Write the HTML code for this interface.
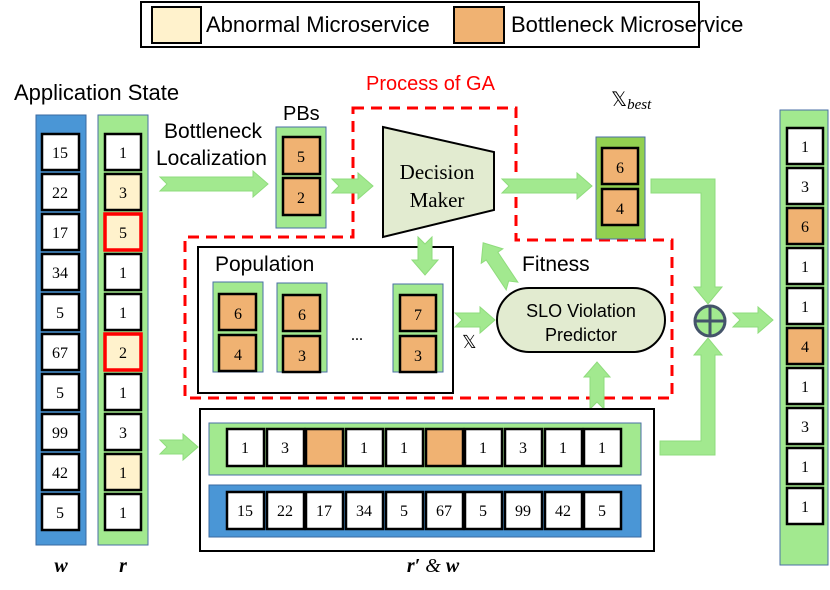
<!DOCTYPE html>
<html><head><style>
html,body{margin:0;padding:0;background:#fff;}
svg{display:block;}
.s{font-family:"Liberation Sans",sans-serif;}
.f{font-family:"Liberation Serif",serif;}
</style></head><body>
<svg width="830" height="590" viewBox="0 0 830 590" xmlns="http://www.w3.org/2000/svg">
<!-- legend -->
<rect x="141" y="2" width="558" height="45" fill="#fff" stroke="#000" stroke-width="2"/>
<rect x="152" y="7" width="49" height="36" fill="#fff2cc" stroke="#000" stroke-width="2"/>
<text x="206" y="32" class="s" font-size="22">Abnormal Microservice</text>
<rect x="454" y="7" width="50" height="36" fill="#f0b272" stroke="#000" stroke-width="2"/>
<text x="511" y="32" class="s" font-size="22">Bottleneck Microservice</text>

<text x="14" y="100" class="s" font-size="22">Application State</text>
<text x="366" y="90" class="s" font-size="20" fill="#ff0000">Process of GA</text>

<!-- red dashed -->
<polygon points="353,108 516,108 516,240 672,240 672,398 185,398 185,237 353,237" fill="none" stroke="#ff0000" stroke-width="3" stroke-dasharray="11,7"/>

<!-- w column -->
<rect x="36" y="115" width="50" height="430" fill="#4a96d6" stroke="#3a6aa0" stroke-width="1"/>
<rect x="98" y="115" width="50" height="430" fill="#a2e98f" stroke="#4a6fa6" stroke-width="1"/>
<g class="f" font-size="16" text-anchor="middle" stroke-width="2.5">
<g fill="#fff" stroke="#000">
<rect x="42" y="134" width="37" height="36"/><rect x="42" y="174" width="37" height="36"/><rect x="42" y="214" width="37" height="36"/><rect x="42" y="254" width="37" height="36"/><rect x="42" y="294" width="37" height="36"/><rect x="42" y="334" width="37" height="36"/><rect x="42" y="374" width="37" height="36"/><rect x="42" y="414" width="37" height="36"/><rect x="42" y="454" width="37" height="36"/><rect x="42" y="494" width="37" height="36"/>
<rect x="105" y="134" width="36" height="36"/>
<rect x="105" y="254" width="36" height="36"/><rect x="105" y="294" width="36" height="36"/>
<rect x="105" y="374" width="36" height="36"/><rect x="105" y="414" width="36" height="36"/><rect x="105" y="494" width="36" height="36"/>
</g>
<g fill="#fff2cc" stroke="#000">
<rect x="105" y="174" width="36" height="36"/><rect x="105" y="454" width="36" height="36"/>
</g>
<g fill="#fff2cc" stroke="#ff0000" stroke-width="3.5">
<rect x="105" y="214" width="36" height="36"/><rect x="105" y="334" width="36" height="36"/>
</g>
<g stroke="none" fill="#000">
<text x="60" y="158">15</text><text x="60" y="198">22</text><text x="60" y="238">17</text><text x="60" y="278">34</text><text x="60" y="318">5</text><text x="60" y="358">67</text><text x="60" y="398">5</text><text x="60" y="438">99</text><text x="60" y="478">42</text><text x="60" y="518">5</text>
<text x="123" y="158">1</text><text x="123" y="198">3</text><text x="123" y="238">5</text><text x="123" y="278">1</text><text x="123" y="318">1</text><text x="123" y="358">2</text><text x="123" y="398">1</text><text x="123" y="438">3</text><text x="123" y="478">1</text><text x="123" y="518">1</text>
</g>
</g>
<text x="61" y="572" class="f" font-size="20" font-weight="bold" font-style="italic" text-anchor="middle">w</text>
<text x="123" y="572" class="f" font-size="20" font-weight="bold" font-style="italic" text-anchor="middle">r</text>

<text x="164" y="138" class="s" font-size="21">Bottleneck</text>
<text x="156" y="165" class="s" font-size="21">Localization</text>

<!-- Population -->
<rect x="198" y="247" width="255" height="146" fill="#fff" stroke="#000" stroke-width="2"/>
<text x="215" y="271" class="s" font-size="21">Population</text>
<g fill="#a2e98f" stroke="#4a6fa6">
<rect x="213" y="282" width="50" height="90"/><rect x="277" y="283" width="50" height="89"/><rect x="393" y="284" width="50" height="88"/>
</g>
<g fill="#f0b272" stroke="#000" stroke-width="2.5">
<rect x="219" y="294" width="37" height="36"/><rect x="219" y="335" width="37" height="36"/>
<rect x="283" y="295" width="37" height="36"/><rect x="283" y="336" width="37" height="36"/>
<rect x="400" y="295" width="36" height="36"/><rect x="400" y="336" width="36" height="36"/>
</g>
<g class="f" font-size="16" text-anchor="middle">
<text x="238" y="319">6</text><text x="238" y="360">4</text>
<text x="302" y="320">6</text><text x="302" y="361">3</text>
<text x="418" y="320">7</text><text x="418" y="361">3</text>
<text x="357" y="340">...</text>
</g>
<text x="462" y="348" class="f" font-size="18">𝕏</text>

<!-- arrows -->
<g fill="#a2e98f" stroke="#8fdc7c" stroke-width="1">
<polygon points="160,177 253,177 253,171 268,184 253,197 253,191 160,191 167,184"/>
<polygon points="332,179 358,179 358,173 373,186 358,199 358,193 332,193 339,186"/>
<polygon points="502,179 577,179 577,173 592,186 577,199 577,193 502,193 509,186"/>
<polygon points="418,237 418,260 412,260 425,275 438,260 432,260 432,237 425,244"/>
<polygon points="455,313 480,313 480,307 495,320 480,333 480,327 455,327 462,320"/>
<polygon points="733,313 758,313 758,307 773,320 758,333 758,327 733,327 740,320"/>
<polygon points="160,440 183,440 183,434 198,447 183,460 183,454 160,454 167,447"/>
<polygon points="590,409 590,377 584,377 597,362 610,377 604,377 604,409 597,402"/>
<polygon points="651,179 715,179 715,287 722,287 708,304 694,287 701,287 701,193 651,193"/>
<polygon points="660,441 701,441 701,355 694,355 708,338 722,355 715,355 715,455 660,455"/>
<g transform="translate(512,286) rotate(-123.7)"><polygon points="0,-7 36,-7 36,-13 52,0 36,13 36,7 0,7 6,0"/></g>
</g>
<text x="522" y="271" class="s" font-size="21">Fitness</text>

<!-- PBs -->
<text x="283" y="120" class="s" font-size="20">PBs</text>
<rect x="276" y="127" width="50" height="101" fill="#a2e98f" stroke="#4a6fa6"/>
<g fill="#f0b272" stroke="#000" stroke-width="2.5">
<rect x="283" y="137" width="37" height="37"/><rect x="283" y="178" width="37" height="37"/>
</g>
<text x="301" y="162" class="f" font-size="16" text-anchor="middle">5</text>
<text x="301" y="203" class="f" font-size="16" text-anchor="middle">2</text>

<!-- decision maker -->
<polygon points="383,127 494,152 494,210 383,237" fill="#e2ebd0" stroke="#000" stroke-width="2"/>
<text x="437" y="179" class="f" font-size="21" text-anchor="middle">Decision</text>
<text x="437" y="207" class="f" font-size="21" text-anchor="middle">Maker</text>

<!-- Xbest -->
<text x="611" y="106" class="f" font-size="20">𝕏<tspan font-size="15" font-style="italic" dy="3">best</tspan></text>
<rect x="596" y="137" width="49" height="102" fill="#92d050" stroke="#4a6fa6"/>
<g fill="#f0b272" stroke="#000" stroke-width="2.5">
<rect x="602" y="148" width="36" height="36"/><rect x="602" y="189" width="36" height="36"/>
</g>
<text x="620" y="173" class="f" font-size="16" text-anchor="middle">6</text>
<text x="620" y="214" class="f" font-size="16" text-anchor="middle">4</text>

<!-- SLO -->
<rect x="497" y="288" width="168" height="64" rx="32" fill="#e2ebd0" stroke="#000" stroke-width="2"/>
<text x="581" y="317" class="s" font-size="18" text-anchor="middle">SLO Violation</text>
<text x="581" y="341" class="s" font-size="18" text-anchor="middle">Predictor</text>

<!-- oplus -->
<circle cx="710" cy="321" r="15" fill="#a2e98f" stroke="#44546a" stroke-width="3"/>
<line x1="695" y1="321" x2="725" y2="321" stroke="#44546a" stroke-width="3"/>
<line x1="710" y1="306" x2="710" y2="336" stroke="#44546a" stroke-width="3"/>

<!-- bottom box -->
<rect x="200" y="409" width="454" height="142" fill="#fff" stroke="#000" stroke-width="2"/>
<rect x="209" y="423" width="432" height="52" fill="#a2e98f" stroke="#4a6fa6"/>
<rect x="209" y="485" width="432" height="52" fill="#4a96d6" stroke="#3a6aa0"/>
<g stroke="#000" stroke-width="2.5" fill="#fff">
<rect x="227" y="429" width="37" height="37"/><rect x="267" y="429" width="37" height="37"/><rect x="306" y="429" width="37" height="37" fill="#f0b272"/><rect x="346" y="429" width="37" height="37"/><rect x="386" y="429" width="37" height="37"/><rect x="426" y="429" width="37" height="37" fill="#f0b272"/><rect x="465" y="429" width="37" height="37"/><rect x="505" y="429" width="37" height="37"/><rect x="545" y="429" width="37" height="37"/><rect x="584" y="429" width="37" height="37"/>
<rect x="227" y="492" width="37" height="37"/><rect x="267" y="492" width="37" height="37"/><rect x="306" y="492" width="37" height="37"/><rect x="346" y="492" width="37" height="37"/><rect x="386" y="492" width="37" height="37"/><rect x="426" y="492" width="37" height="37"/><rect x="465" y="492" width="37" height="37"/><rect x="505" y="492" width="37" height="37"/><rect x="545" y="492" width="37" height="37"/><rect x="584" y="492" width="37" height="37"/>
</g>
<g class="f" font-size="16" text-anchor="middle">
<text x="245" y="453">1</text><text x="285" y="453">3</text><text x="364" y="453">1</text><text x="404" y="453">1</text><text x="483" y="453">1</text><text x="523" y="453">3</text><text x="563" y="453">1</text><text x="602" y="453">1</text>
<text x="245" y="516">15</text><text x="285" y="516">22</text><text x="324" y="516">17</text><text x="364" y="516">34</text><text x="404" y="516">5</text><text x="444" y="516">67</text><text x="483" y="516">5</text><text x="523" y="516">99</text><text x="563" y="516">42</text><text x="602" y="516">5</text>
</g>
<text x="433" y="572" class="f" font-size="20" font-weight="bold" font-style="italic" text-anchor="middle">r′ <tspan font-weight="normal">&amp;</tspan> w</text>

<!-- right column -->
<rect x="780" y="110" width="48" height="455" fill="#a2e98f" stroke="#4a6fa6"/>
<g stroke="#000" stroke-width="2.5" fill="#fff">
<rect x="787" y="128" width="36" height="36"/><rect x="787" y="168" width="36" height="36"/><rect x="787" y="208" width="36" height="36" fill="#f0b272"/><rect x="787" y="248" width="36" height="36"/><rect x="787" y="288" width="36" height="36"/><rect x="787" y="328" width="36" height="36" fill="#f0b272"/><rect x="787" y="368" width="36" height="36"/><rect x="787" y="408" width="36" height="36"/><rect x="787" y="448" width="36" height="36"/><rect x="787" y="488" width="36" height="36"/>
</g>
<g class="f" font-size="16" text-anchor="middle">
<text x="805" y="152">1</text><text x="805" y="192">3</text><text x="805" y="232">6</text><text x="805" y="272">1</text><text x="805" y="312">1</text><text x="805" y="352">4</text><text x="805" y="392">1</text><text x="805" y="432">3</text><text x="805" y="472">1</text><text x="805" y="512">1</text>
</g>
</svg>
</body></html>
